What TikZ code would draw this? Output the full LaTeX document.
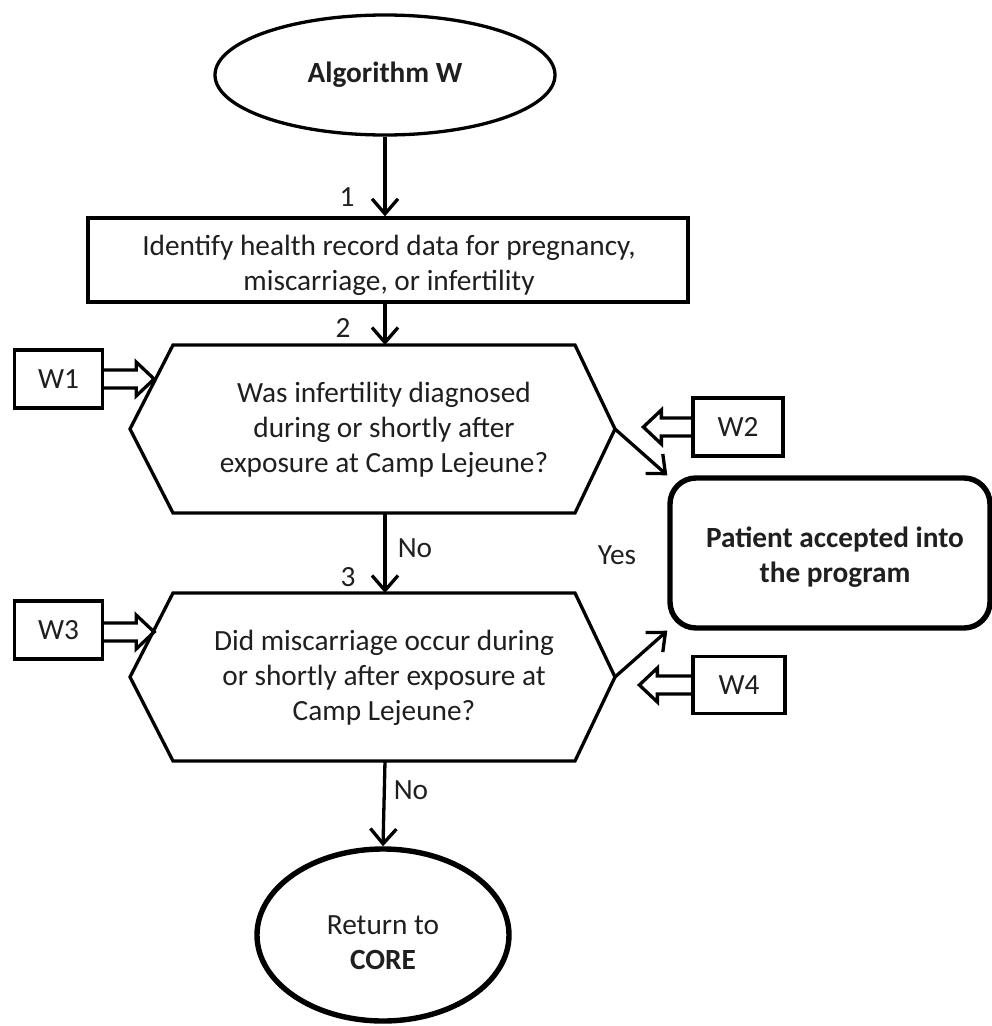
\documentclass[tikz,border=0pt]{standalone}
\usepackage{fontspec}
\setmainfont{Carlito}
\usetikzlibrary{arrows.meta,shapes.geometric,calc}
\begin{document}
\begin{tikzpicture}[x=1pt,y=-1pt,
  every node/.style={font=\fontsize{29.3}{35}\selectfont, text=black!88, align=center},
  line/.style={line width=3.3pt, draw=black},
  thick line/.style={line width=5.4pt, draw=black},
  flow/.style={line, -{Straight Barb[length=15pt,width=26pt]}},
  wbox/.style={line, minimum width=88pt, minimum height=58pt, inner sep=0pt},
  hollow/.style={line, line join=miter},
  lbl/.style={inner sep=0pt}
]
\useasboundingbox (0,0) rectangle (992,1026);

% nodes
\node[line, ellipse, minimum width=340pt, minimum height=120pt, inner sep=0pt] (start) at (385,75) {\textbf{Algorithm W}};
\node[line, rectangle, minimum width=600pt, minimum height=84pt, inner sep=0pt] (rect) at (388,260) {};
\node[lbl] (recttext) at (389,265) {Identify health record data for pregnancy,\\miscarriage, or infertility};

% hexagons
\draw[line, line join=miter] (130,429) -- (173,345) -- (575,345) -- (615,429) -- (575,513) -- (173,513) -- cycle;
\draw[line, line join=miter] (130,677) -- (173,593) -- (575,593) -- (615,677) -- (575,761) -- (173,761) -- cycle;
\coordinate (h1n) at (385,345);
\coordinate (h1s) at (385,513);
\coordinate (h1e) at (615,429);
\coordinate (h2n) at (385,593);
\coordinate (h2s) at (385,761);
\coordinate (h2e) at (615,677);
\node[lbl] (h1) at (384,430) {Was infertility diagnosed\\during or shortly after\\exposure at Camp Lejeune?};
\node[lbl] (h2) at (384,678) {Did miscarriage occur during\\or shortly after exposure at\\Camp Lejeune?};

\node[thick line, rectangle, rounded corners=26pt, minimum width=320pt, minimum height=150pt, inner sep=0pt] (pa) at (830,553) {};
\node[lbl] (patext) at (835,557) {\textbf{Patient accepted into}\\\textbf{the program}};

\node[thick line, ellipse, minimum width=252pt, minimum height=172pt, inner sep=0pt] (core) at (383,935) {};
\node[lbl] (coretext) at (383,943) {Return to\\\textbf{CORE}};

% W boxes
\node[wbox] (w1) at (58.5,379) {W1};
\node[wbox] (w3) at (58.5,630) {W3};
\node[wbox, minimum width=90pt] (w2) at (738,427) {W2};
\node[wbox, minimum width=92pt, minimum height=57pt] (w4) at (739,685) {W4};

% hollow arrows
\draw[hollow] ($(w1.east)+(0,-9)$) -- ++(32,0) -- ++(0,-8) -- ++(18,17) -- ++(-18,17) -- ++(0,-8) -- ++(-32,0);
\draw[hollow] ($(w3.east)+(0,-7)$) -- ++(32,0) -- ++(0,-8) -- ++(18,17) -- ++(-18,17) -- ++(0,-8) -- ++(-32,0);
\draw[hollow] ($(w2.west)+(0,-9)$) -- ++(-30,0) -- ++(0,-8) -- ++(-18,17) -- ++(18,17) -- ++(0,-8) -- ++(30,0);
\draw[hollow] ($(w4.west)+(0,-9)$) -- ++(-34,0) -- ++(0,-8) -- ++(-18,17) -- ++(18,17) -- ++(0,-8) -- ++(34,0);

% connectors
\draw[flow] (start.south) -- (start.south |- rect.north);
\draw[flow] (rect.south -| h1n) -- (h1n);
\draw[flow] (h1s) -- (h2n);
\draw[flow] (h2s) -- (core.north);
\draw[flow] (h1e) -- (pa.north west);
\draw[flow] (h2e) -- (pa.south west);

% labels
\node[lbl] (l1) at (347,197) {1};
\node[lbl] (l2) at (343,328) {2};
\node[lbl] (l3) at (348,577) {3};
\node[lbl] (no1) at (415,548) {No};
\node[lbl] (no2) at (411,790) {No};
\node[lbl] (yes) at (617,555) {Yes};
\end{tikzpicture}
\end{document}
